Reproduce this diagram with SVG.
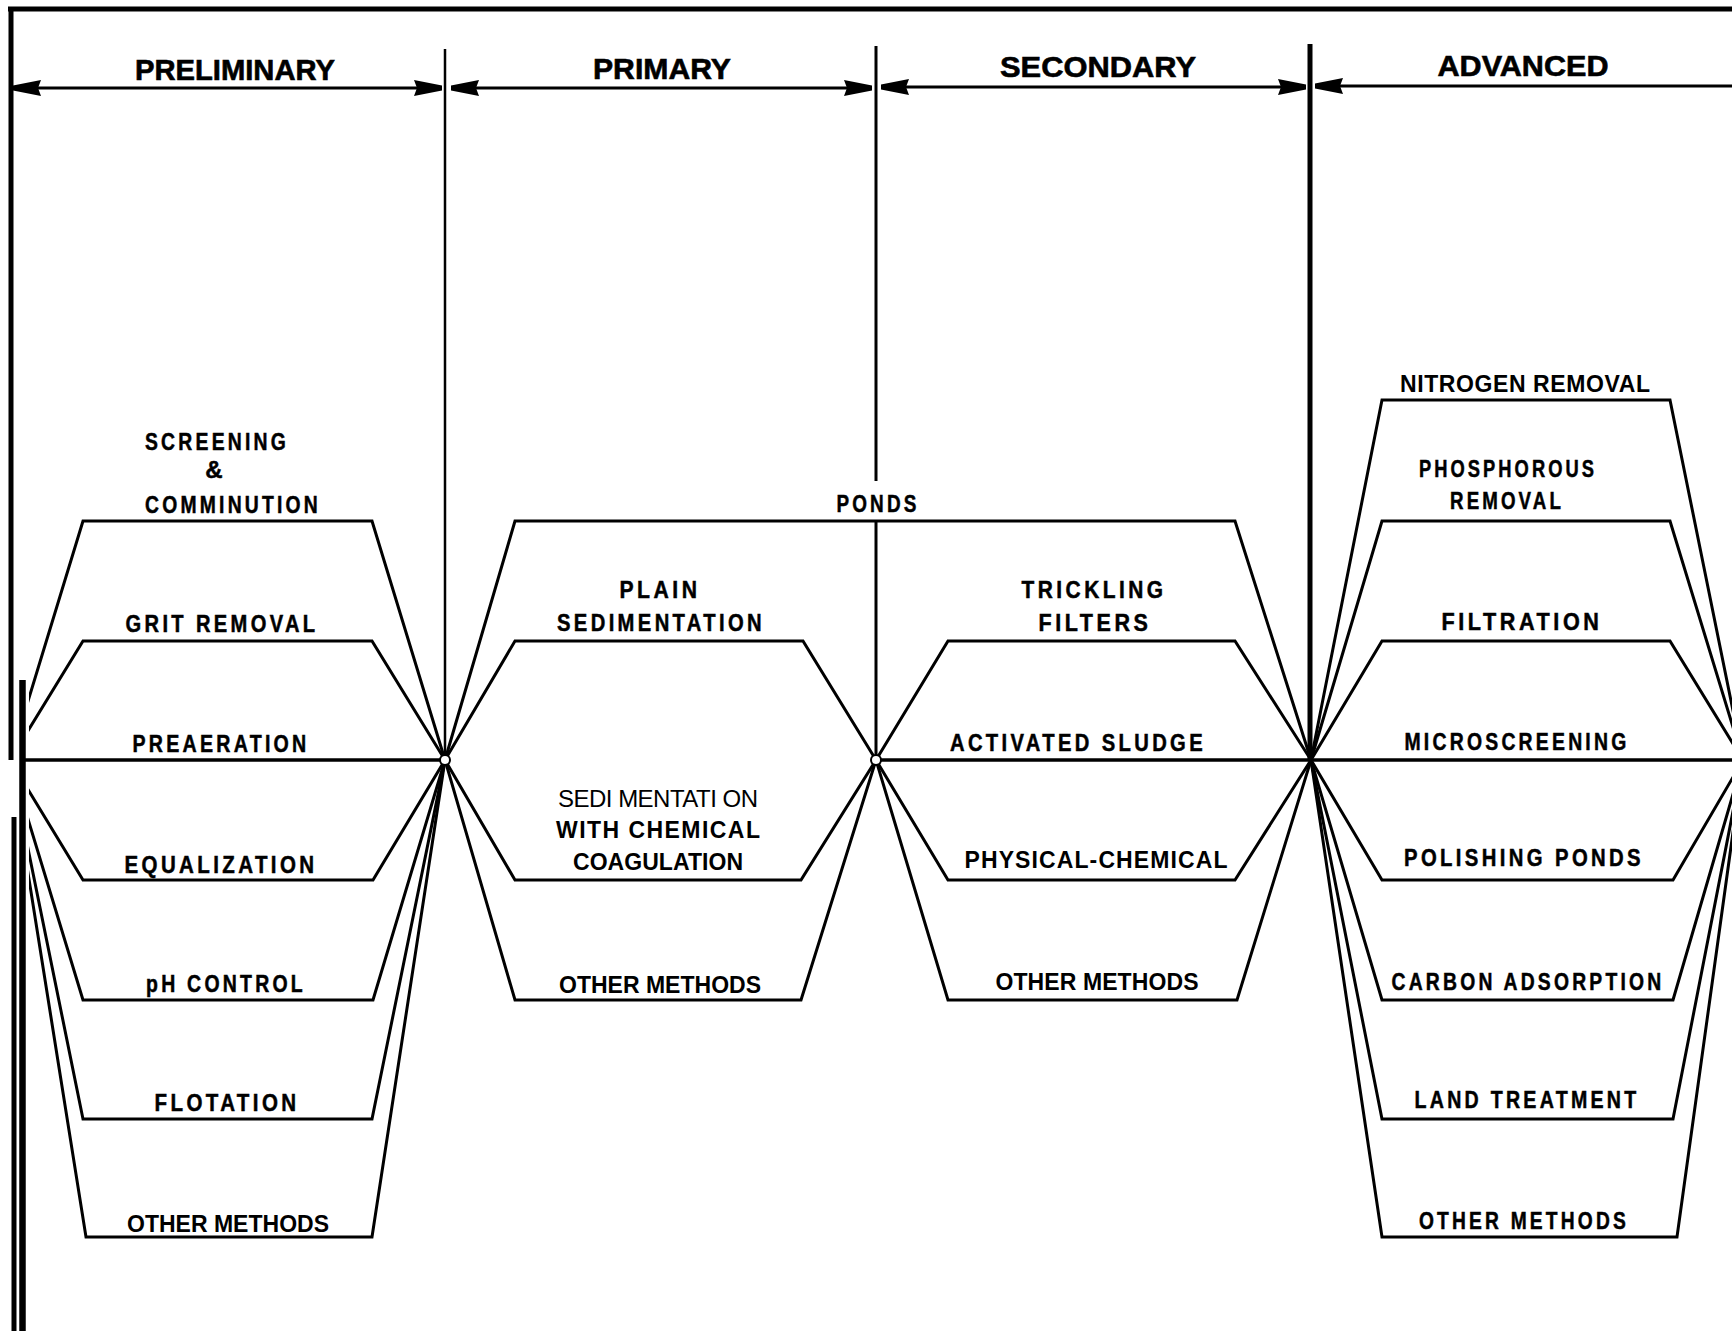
<svg xmlns="http://www.w3.org/2000/svg" width="1732" height="1331" viewBox="0 0 1732 1331">
<style>
.ln{fill:none;stroke:#000;stroke-width:3;stroke-linejoin:miter}
.hz{fill:none;stroke:#000;stroke-width:3.5}
.bar{stroke:#000;fill:none}
.lr{font-family:"Liberation Sans",Arial,sans-serif;font-weight:bold;font-size:24px;letter-spacing:4px;text-anchor:middle;fill:#000;stroke:#000;stroke-width:0.5}
.hv{font-family:"Liberation Sans",Arial,sans-serif;font-weight:bold;font-size:23px;text-anchor:middle;fill:#000}
.hd{font-family:"Liberation Sans",Arial,sans-serif;font-weight:bold;font-size:29px;text-anchor:middle;fill:#000;stroke:#000;stroke-width:0.6}
.th{font-family:"Liberation Sans",Arial,sans-serif;font-weight:normal;font-size:24px;text-anchor:middle;fill:#000}
.dim{stroke:#000;stroke-width:3;fill:none;marker-start:url(#ah);marker-end:url(#ah)}
.nd{fill:#fff;stroke:#000;stroke-width:2}
</style>
<defs>
<marker id="ah" viewBox="0 0 28 16" refX="28" refY="8" markerWidth="28" markerHeight="16" markerUnits="userSpaceOnUse" orient="auto-start-reverse">
<path d="M0,0 L28,5.5 L28,10.5 L0,16 L3,8 Z" fill="#000"/>
</marker>
<clipPath id="cl"><rect x="29" y="0" width="440" height="1331"/></clipPath>
</defs>
<rect x="0" y="0" width="1732" height="1331" fill="#fff"/>

<g id="frame">
<line class="bar" x1="8" y1="9" x2="1732" y2="9" stroke-width="5"/>
<line class="bar" x1="11" y1="7" x2="11" y2="760" stroke-width="5"/>
<line class="bar" x1="22.5" y1="680" x2="22.5" y2="1331" stroke-width="6.5"/>
<line class="bar" x1="14" y1="817" x2="14" y2="1331" stroke-width="5"/>
</g>

<g id="connectors">
<line class="dim" x1="13" y1="88" x2="442" y2="88"/>
<line class="dim" x1="451" y1="88" x2="872" y2="88"/>
<line class="dim" x1="881" y1="87" x2="1306" y2="87"/>
<line class="dim" x1="1315" y1="86" x2="1760" y2="86"/>
<line class="bar" x1="445" y1="49" x2="445" y2="760" stroke-width="2.5"/>
<line class="bar" x1="876" y1="46" x2="876" y2="481" stroke-width="3"/>
<line class="bar" x1="876" y1="521" x2="876" y2="760" stroke-width="3"/>
<line class="bar" x1="1310" y1="44" x2="1310" y2="760" stroke-width="5"/>
</g>

<g id="headers">
<text class="hd" x="235" y="80" textLength="200" lengthAdjust="spacingAndGlyphs">PRELIMINARY</text>
<text class="hd" x="662" y="79" textLength="138" lengthAdjust="spacingAndGlyphs">PRIMARY</text>
<text class="hd" x="1098" y="77" textLength="196" lengthAdjust="spacingAndGlyphs">SECONDARY</text>
<text class="hd" x="1523" y="76" textLength="171" lengthAdjust="spacingAndGlyphs">ADVANCED</text>
</g>

<!-- PRELIMINARY -->
<g id="screening">
<polyline class="ln" clip-path="url(#cl)" points="10,760 83,521 372,521 445,760"/>
<text class="lr" x="217" y="450" textLength="144" lengthAdjust="spacingAndGlyphs">SCREENING</text>
<text class="lr" x="216" y="478">&amp;</text>
<text class="lr" x="233" y="513" textLength="176" lengthAdjust="spacingAndGlyphs">COMMINUTION</text>
</g>
<g id="grit-removal">
<polyline class="ln" clip-path="url(#cl)" points="10,760 83,641 372,641 445,760"/>
<text class="lr" x="222" y="632" textLength="193" lengthAdjust="spacingAndGlyphs">GRIT REMOVAL</text>
</g>
<g id="preaeration">
<line class="hz" x1="22" y1="760" x2="445" y2="760"/>
<text class="lr" x="221" y="752" textLength="177" lengthAdjust="spacingAndGlyphs">PREAERATION</text>
</g>
<g id="equalization">
<polyline class="ln" clip-path="url(#cl)" points="10,760 83,880 373,880 445,760"/>
<text class="lr" x="221" y="873" textLength="193" lengthAdjust="spacingAndGlyphs">EQUALIZATION</text>
</g>
<g id="ph-control">
<polyline class="ln" clip-path="url(#cl)" points="10,760 83,1000 373,1000 445,760"/>
<text class="lr" x="226" y="992" textLength="160" lengthAdjust="spacingAndGlyphs">pH CONTROL</text>
</g>
<g id="flotation">
<polyline class="ln" clip-path="url(#cl)" points="10,760 83,1119 372,1119 445,760"/>
<text class="lr" x="227" y="1111" textLength="145" lengthAdjust="spacingAndGlyphs">FLOTATION</text>
</g>
<g id="prelim-other">
<polyline class="ln" clip-path="url(#cl)" points="10,760 86,1237 372,1237 445,760"/>
<text class="hv" x="228" y="1232" textLength="202" lengthAdjust="spacing">OTHER  METHODS</text>
</g>

<!-- PRIMARY -->
<g id="ponds">
<polyline class="ln" points="445,760 515,521 1235,521 1311,760"/>
<text class="lr" x="878" y="512" textLength="83" lengthAdjust="spacingAndGlyphs">PONDS</text>
</g>
<g id="plain-sedimentation">
<polyline class="ln" points="445,760 515,641 803,641 876,760"/>
<text class="lr" x="660" y="598" textLength="81" lengthAdjust="spacingAndGlyphs">PLAIN</text>
<text class="lr" x="661" y="631" textLength="208" lengthAdjust="spacingAndGlyphs">SEDIMENTATION</text>
</g>
<g id="chemical-sedimentation">
<polyline class="ln" points="445,760 515,880 801,880 876,760"/>
<text class="th" x="658" y="807" textLength="200" lengthAdjust="spacing">SEDI MENTATI ON</text>
<text class="hv" x="658" y="838" textLength="204" lengthAdjust="spacing">WITH  CHEMICAL</text>
<text class="hv" x="658" y="870" textLength="170" lengthAdjust="spacing">COAGULATION</text>
</g>
<g id="primary-other">
<polyline class="ln" points="445,760 515,1000 801,1000 876,760"/>
<text class="hv" x="660" y="993" textLength="202" lengthAdjust="spacing">OTHER METHODS</text>
</g>

<!-- SECONDARY -->
<g id="trickling-filters">
<polyline class="ln" points="876,760 948,641 1235,641 1311,760"/>
<text class="lr" x="1094" y="598" textLength="145" lengthAdjust="spacingAndGlyphs">TRICKLING</text>
<text class="lr" x="1095" y="631" textLength="113" lengthAdjust="spacingAndGlyphs">FILTERS</text>
</g>
<g id="activated-sludge">
<line class="hz" x1="876" y1="760" x2="1311" y2="760"/>
<text class="lr" x="1078" y="751" textLength="256" lengthAdjust="spacingAndGlyphs">ACTIVATED SLUDGE</text>
</g>
<g id="physical-chemical">
<polyline class="ln" points="876,760 948,880 1235,880 1311,760"/>
<text class="hv" x="1096" y="868" textLength="263" lengthAdjust="spacing">PHYSICAL-CHEMICAL</text>
</g>
<g id="secondary-other">
<polyline class="ln" points="876,760 948,1000 1237,1000 1311,760"/>
<text class="hv" x="1097" y="990" textLength="203" lengthAdjust="spacing">OTHER  METHODS</text>
</g>

<!-- ADVANCED -->
<g id="nitrogen-removal">
<polyline class="ln" points="1311,760 1382,400 1670,400 1743,760"/>
<text class="hv" x="1525" y="392" textLength="250" lengthAdjust="spacing">NITROGEN REMOVAL</text>
</g>
<g id="phosphorous-removal">
<polyline class="ln" points="1311,760 1382,521 1670,521 1743,760"/>
<text class="lr" x="1508" y="477" textLength="178" lengthAdjust="spacingAndGlyphs">PHOSPHOROUS</text>
<text class="lr" x="1507" y="509" textLength="114" lengthAdjust="spacingAndGlyphs">REMOVAL</text>
</g>
<g id="filtration">
<polyline class="ln" points="1311,760 1382,641 1670,641 1743,760"/>
<text class="lr" x="1522" y="630" textLength="161" lengthAdjust="spacingAndGlyphs">FILTRATION</text>
</g>
<g id="microscreening">
<line class="hz" x1="1311" y1="760" x2="1732" y2="760"/>
<text class="lr" x="1517" y="750" textLength="225" lengthAdjust="spacingAndGlyphs">MICROSCREENING</text>
</g>
<g id="polishing-ponds">
<polyline class="ln" points="1311,760 1382,880 1673,880 1743,760"/>
<text class="lr" x="1524" y="866" textLength="240" lengthAdjust="spacingAndGlyphs">POLISHING PONDS</text>
</g>
<g id="carbon-adsorption">
<polyline class="ln" points="1311,760 1382,1000 1673,1000 1743,760"/>
<text class="lr" x="1528" y="990" textLength="273" lengthAdjust="spacingAndGlyphs">CARBON ADSORPTION</text>
</g>
<g id="land-treatment">
<polyline class="ln" points="1311,760 1382,1119 1673,1119 1743,760"/>
<text class="lr" x="1527" y="1108" textLength="225" lengthAdjust="spacingAndGlyphs">LAND TREATMENT</text>
</g>
<g id="advanced-other">
<polyline class="ln" points="1311,760 1382,1237 1677,1237 1743,760"/>
<text class="lr" x="1524" y="1229" textLength="210" lengthAdjust="spacingAndGlyphs">OTHER METHODS</text>
</g>

<g id="junctions">
<circle class="nd" cx="445" cy="760" r="5"/>
<circle class="nd" cx="876" cy="760" r="5"/>
</g>
</svg>
